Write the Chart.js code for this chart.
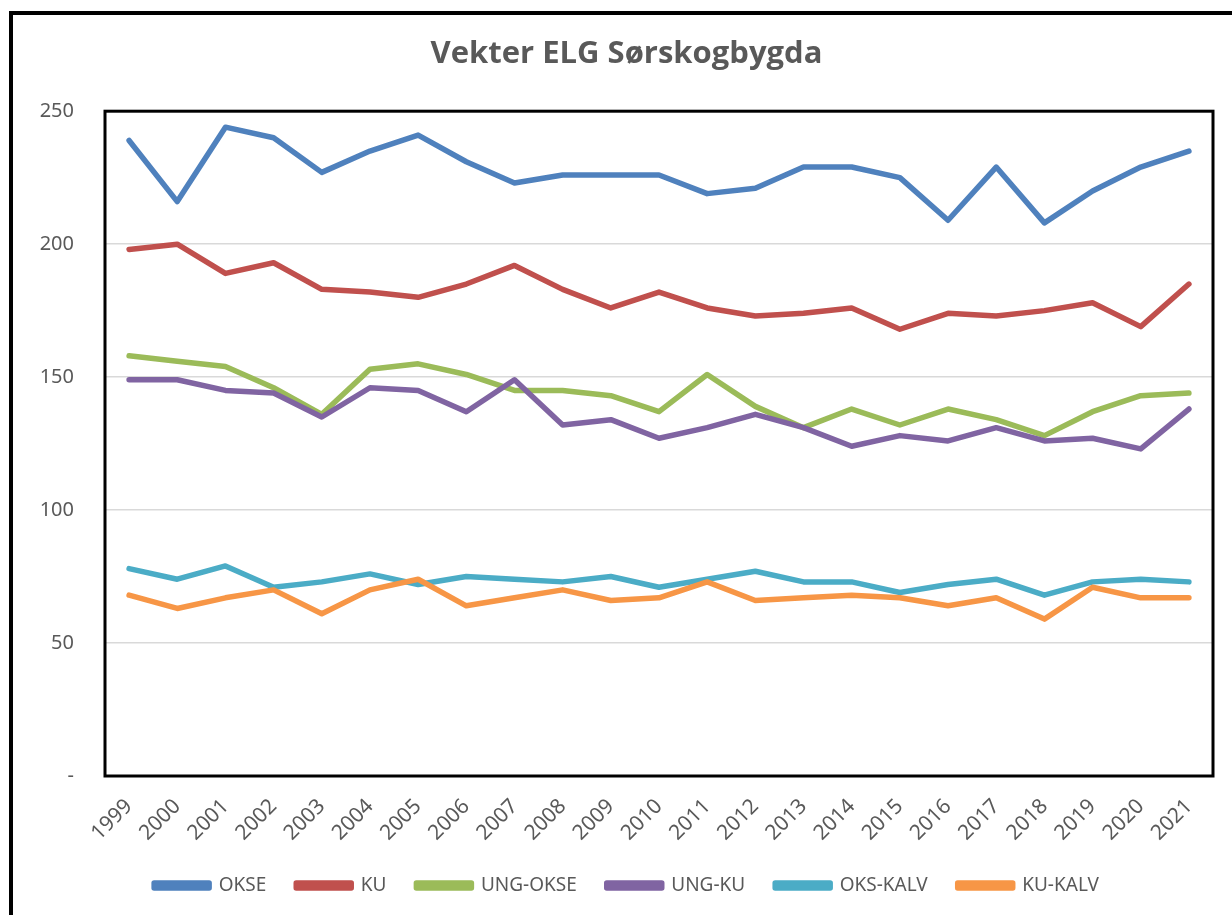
<!DOCTYPE html>
<html>
<head>
<meta charset="utf-8">
<script src="https://cdn.jsdelivr.net/npm/chart.js@4.4.0/dist/chart.umd.min.js"></script>
<style>
  html, body { margin: 0; padding: 0; background: #fff; }
  #wrap { position: relative; width: 1232px; height: 915px; }
</style>
</head>
<body>
<div id="wrap"><canvas id="chart" width="1232" height="915"></canvas></div>
<script>
const years = ['1999','2000','2001','2002','2003','2004','2005','2006','2007','2008','2009','2010',
  '2011','2012','2013','2014','2015','2016','2017','2018','2019','2020','2021'];

const okse    = [239,216,244,240,227,235,241,231,223,226,226,226,219,221,229,229,225,209,229,208,220,229,235];
const ku      = [198,200,189,193,183,182,180,185,192,183,176,182,176,173,174,176,168,174,173,175,178,169,185];
const ungOkse = [158,156,154,146,136,153,155,151,145,145,143,137,151,139,131,138,132,138,134,128,137,143,144];
const ungKu   = [149,149,145,144,135,146,145,137,149,132,134,127,131,136,131,124,128,126,131,126,127,123,138];
const oksKalv = [78,74,79,71,73,76,72,75,74,73,75,71,74,77,73,73,69,72,74,68,73,74,73];
const kuKalv  = [68,63,67,70,61,70,74,64,67,70,66,67,73,66,67,68,67,64,67,59,71,67,67];

const seriesNames = ['OKSE','KU','UNG-OKSE','UNG-KU','OKS-KALV','KU-KALV'];
const seriesColors = ['#4F81BD','#C0504D','#9BBB59','#8064A2','#4BACC6','#F79646'];
const yTicks = [0, 50, 100, 150, 200, 250];

const allSeries = [okse, ku, ungOkse, ungKu, oksKalv, kuKalv];

// draws the outer frame and the thick plot-area box
const frames = {
  id: 'frames',
  afterDraw(chart) {
    const { ctx, chartArea: a } = chart;
    ctx.save();
    ctx.strokeStyle = '#000';
    ctx.lineWidth = 4;
    ctx.beginPath();
    ctx.moveTo(11, 920);
    ctx.lineTo(11, 13);
    ctx.lineTo(1240, 13);
    ctx.stroke();
    ctx.lineWidth = 3;
    ctx.strokeRect(a.left, a.top, a.right - a.left, a.bottom - a.top);
    ctx.restore();
  }
};

const ctx = document.getElementById('chart');
const chart = new Chart(ctx, {
  type: 'line',
  data: {
    labels: years,
    datasets: allSeries.map((vals, i) => ({
      label: seriesNames[i],
      data: vals,
      borderColor: seriesColors[i],
      backgroundColor: seriesColors[i],
      borderWidth: 5.5,
      borderCapStyle: 'round',
      borderJoinStyle: 'round',
      pointRadius: 0,
      tension: 0,
      order: allSeries.length - i,
    })),
  },
  plugins: [frames],
  options: {
    responsive: false,
    animation: false,
    layout: {
      padding: { top: 0, bottom: 10, left: 40, right: 19 },
    },
    scales: {
      x: {
        offset: true,
        grid: { display: false, drawTicks: false },
        border: { display: false },
        ticks: {
          color: '#595959',
          font: { family: 'Noto Sans', size: 21 },
          minRotation: 45,
          maxRotation: 45,
          autoSkip: false,
          padding: 18,
        },
        afterFit: (s) => { s.height = 70; },
      },
      y: {
        min: 0,
        max: 250,
        afterBuildTicks: (s) => { s.ticks = yTicks.map(v => ({ value: v })); },
        grid: { color: '#d9d9d9', lineWidth: 1.5, drawTicks: false },
        border: { display: false },
        ticks: {
          color: '#595959',
          font: { family: 'Noto Sans', size: 20 },
          padding: 31,
          callback: (v) => v === 0 ? '-' : v,
        },
        afterFit: (s) => { s.width = 65; },
      },
    },
    plugins: {
      title: {
        display: true,
        text: 'Vekter ELG Sørskogbygda',
        color: '#595959',
        font: { family: 'Open Sans', size: 31, weight: 'bold' },
        padding: { top: 36, bottom: 38 },
      },
      legend: {
        position: 'bottom',
        labels: {
          color: '#595959',
          font: { family: 'Noto Sans', size: 19 },
          boxWidth: 55,
          boxHeight: 5,
          padding: 30,
          sort: (a, b) => a.datasetIndex - b.datasetIndex,
        },
      },
      tooltip: { enabled: false },
    },
  },
});
</script>
</body>
</html>
